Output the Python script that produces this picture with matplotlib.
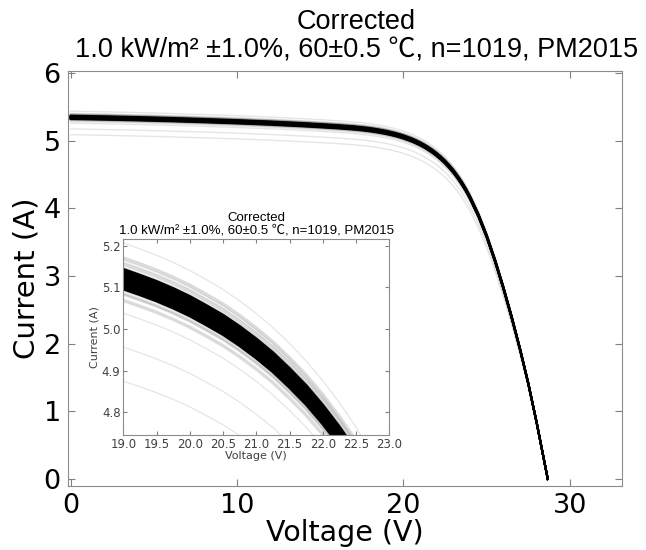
import numpy as np
import matplotlib
matplotlib.use("Agg")
import matplotlib.pyplot as plt

# median corrected I-V curve
volt = [0, 2, 4, 6, 8, 10, 12, 14, 15, 16, 17, 17.5, 18, 18.25, 18.5, 18.75,
        19, 19.25, 19.5, 19.75, 20, 20.25, 20.5, 20.75, 21, 21.25, 21.5,
        21.75, 22, 22.25, 22.5, 22.75, 23, 23.25, 23.5, 23.75, 24, 24.5, 25,
        25.5, 26, 26.5, 27, 27.5, 28, 28.5, 28.67]
curr = [5.345, 5.336, 5.325, 5.312, 5.297, 5.280, 5.260, 5.236, 5.222, 5.207,
        5.189, 5.177, 5.162, 5.153, 5.143, 5.132, 5.120, 5.106, 5.091, 5.074,
        5.055, 5.033, 5.010, 4.983, 4.953, 4.920, 4.882, 4.841, 4.794, 4.742,
        4.684, 4.618, 4.546, 4.464, 4.373, 4.272, 4.158, 3.898, 3.588, 3.228,
        2.828, 2.393, 1.923, 1.413, 0.838, 0.213, 0.0]

# current ratio of the curves forming the dense black band
band_ratio = [0.9955, 0.9965, 0.9975, 0.9985, 0.9995, 1.0005, 1.0015, 1.0025,
              1.0035, 1.0045]
fuzz_ratio = [0.990, 0.993, 0.995, 1.005, 1.007, 1.010]
# current ratio of the faint outlier curves
outlier_ratio = [1.017, 1.009, 1.008, 1.005, 0.996, 0.993, 0.984, 0.968, 0.952]

title = "Corrected\n1.0 kW/m\u00b2 \u00b11.0%, 60\u00b10.5 \u2103, n=1019, PM2015"
title_font = ["Liberation Sans", "Noto Sans CJK JP", "DejaVu Sans"]

v = np.array(volt)
i0 = np.array(curr)

fig = plt.figure(figsize=(6.46, 5.5), dpi=100)
ax = fig.add_axes([0.1048, 0.1155, 0.8585, 0.7554])
ins = fig.add_axes([0.1909, 0.2085, 0.4117, 0.3564])


def draw(axis, lw, lw_out):
    for k in outlier_ratio:
        axis.plot(v, i0 * k, color="k", alpha=0.1, lw=lw_out)
    for k in fuzz_ratio:
        axis.plot(v, i0 * k, color="k", alpha=0.14, lw=lw)
    for k in band_ratio:
        axis.plot(v, i0 * k, color="k", lw=lw)


draw(ax, 1.5, 1.0)
draw(ins, 2.4, 0.9)

for a in (ax, ins):
    a.tick_params(direction="in", top=True, right=True, color="0.5")
    for s in a.spines.values():
        s.set_color("0.55")

ax.set_xlim(-0.18, 33.15)
ax.set_ylim(-0.11, 6.03)
ax.set_xticks([0, 10, 20, 30])
ax.set_yticks([0, 1, 2, 3, 4, 5, 6])
ax.tick_params(labelsize=19.5, length=5)
ax.tick_params(axis="x", pad=5)
ax.tick_params(axis="y", pad=5)
ax.set_xlabel("Voltage (V)", fontsize=20.5, labelpad=0)
ax.set_ylabel("Current (A)", fontsize=21, labelpad=2)
ax.set_title(title, fontsize=19.5, family=title_font, x=0.52, pad=10,
             linespacing=1.12)

ins.set_xlim(19.0, 23.0)
ins.set_ylim(4.744, 5.216)
ins.set_xticks(np.arange(19.0, 23.01, 0.5))
ins.set_yticks([4.8, 4.9, 5.0, 5.1, 5.2])
ins.xaxis.set_major_formatter(matplotlib.ticker.FormatStrFormatter("%.1f"))
ins.tick_params(labelsize=8.5, length=3, pad=2, labelcolor="0.25")
ins.set_xlabel("Voltage (V)", fontsize=8, labelpad=0, color="0.25")
ins.set_ylabel("Current (A)", fontsize=8, labelpad=2, color="0.25")
ins.set_title(title, fontsize=9.5, family=title_font, pad=4, linespacing=1.05)

fig.savefig("out.png", dpi=100)
